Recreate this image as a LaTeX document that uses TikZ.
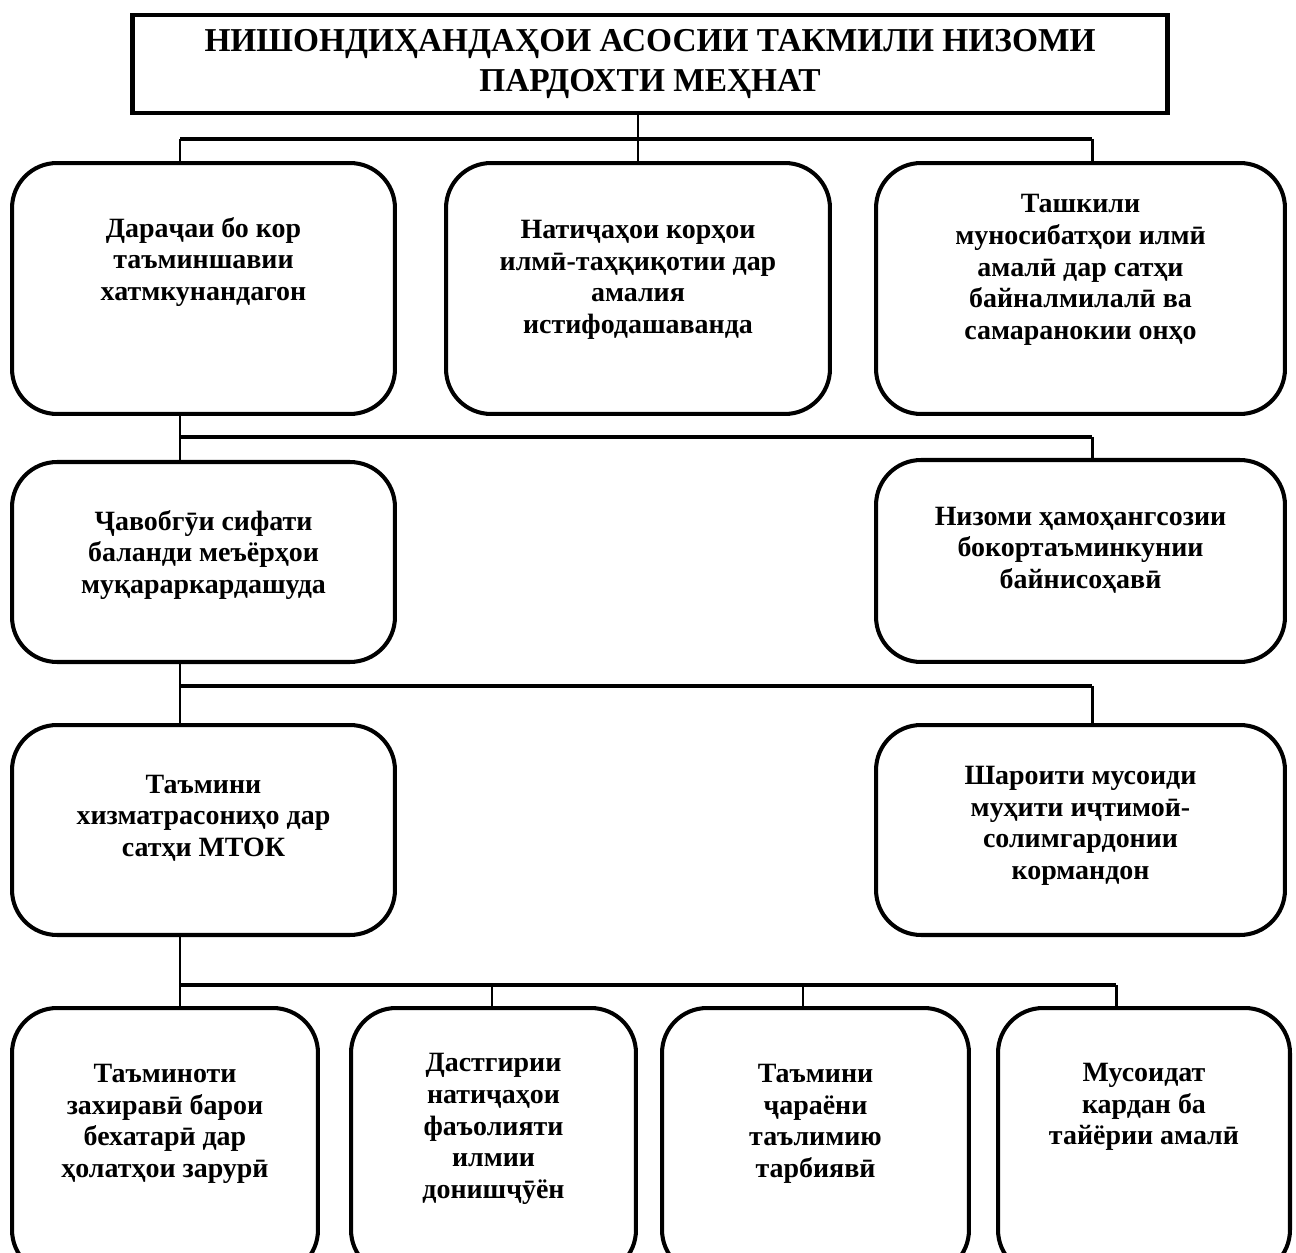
\documentclass[tikz,border=0pt]{standalone}
\usepackage{fontspec}
\setmainfont{Liberation Serif}
\usetikzlibrary{calc, positioning}

\tikzset{
  box/.style={draw, line width=2.3pt, rounded corners=0.9cm, inner sep=0pt},
  txt/.style={align=center, font=\bfseries\fontsize{15.9}{18}\selectfont},
  conn/.style={line width=1.7pt},
  bar/.style={line width=2.4pt},
}

\begin{document}
\begin{tikzpicture}[x=0.02cm, y=-0.02cm]
  \useasboundingbox (0,0) rectangle (1296,1253);
  \clip (0,0) rectangle (1296,1253);

  \node[draw, line width=2.5pt, minimum width=20.7cm, minimum height=1.96cm, align=center,
        font=\bfseries\fontsize{19}{22.8}\selectfont] (title) at (650,64)
        {НИШОНДИҲАНДАҲОИ АСОСИИ ТАКМИЛИ НИЗОМИ\\ПАРДОХТИ МЕҲНАТ};

  \node[box, minimum width=7.66cm, minimum height=5.02cm] (darajai) at (203.5,288.5) {};
  \node[box, minimum width=7.68cm, minimum height=5.02cm] (natija) at (638,288.5) {};
  \node[box, minimum width=8.18cm, minimum height=5.02cm] (tashkil) at (1080.5,288.5) {};
  \node[box, minimum width=7.66cm, minimum height=4cm] (javob) at (203.5,562) {};
  \node[box, minimum width=8.18cm, minimum height=4.04cm] (nizom) at (1080.5,561) {};
  \node[box, minimum width=7.66cm, minimum height=4.2cm] (tamin) at (203.5,830) {};
  \node[box, minimum width=8.18cm, minimum height=4.2cm] (sharoit) at (1080.5,830) {};
  \node[box, minimum width=6.12cm, minimum height=5.34cm] (zakhira) at (165,1141.5) {};
  \node[box, minimum width=5.7cm, minimum height=5.34cm] (dastgir) at (493.5,1141.5) {};
  \node[box, minimum width=6.14cm, minimum height=5.34cm] (jarayon) at (815.5,1141.5) {};
  \node[box, minimum width=5.84cm, minimum height=5.34cm] (musoid) at (1144,1141.5) {};

  \node[txt] (darajai-t) at (203.5,262) {Дараҷаи бо кор\\таъминшавии\\хатмкунандагон};
  \node[txt] (natija-t) at (638,280) {Натиҷаҳои корҳои\\илмӣ-таҳқиқотии дар\\амалия\\истифодашаванда};
  \node[txt] (tashkil-t) at (1080.5,270) {Ташкили\\муносибатҳои илмӣ\\амалӣ дар сатҳи\\байналмилалӣ ва\\самаранокии онҳо};
  \node[txt] (javob-t) at (203.5,555) {Ҷавобгӯи сифати\\баланди меъёрҳои\\муқараркардашуда};
  \node[txt] (nizom-t) at (1080.5,550) {Низоми ҳамоҳангсозии\\бокортаъминкунии\\байнисоҳавӣ};
  \node[txt] (tamin-t) at (203.5,818) {Таъмини\\хизматрасониҳо дар\\сатҳи МТОК};
  \node[txt] (sharoit-t) at (1080.5,826) {Шароити мусоиди\\муҳити иҷтимоӣ-\\солимгардонии\\кормандон};
  \node[txt] (zakhira-t) at (165,1124) {Таъминоти\\захиравӣ барои\\бехатарӣ дар\\ҳолатҳои зарурӣ};
  \node[txt] (dastgir-t) at (493.5,1129) {Дастгирии\\натиҷаҳои\\фаъолияти\\илмии\\донишҷӯён};
  \node[txt] (jarayon-t) at (815.5,1124) {Таъмини\\ҷараёни\\таълимию\\тарбиявӣ};
  \node[txt] (musoid-t) at (1144,1107) {Мусоидат\\кардан ба\\тайёрии амалӣ};

  \coordinate (j1) at (180,139);
  \coordinate (j1r) at (1092,139);
  \coordinate (j2) at (180,437);
  \coordinate (j2r) at (1092,437);
  \coordinate (j3) at (180,686);
  \coordinate (j3r) at (1092,686);
  \coordinate (j4) at (180,985);
  \coordinate (j4b) at (492,985);
  \coordinate (j4c) at (803,985);
  \coordinate (j4r) at (1116,985);

  \draw[conn] (natija.north) -- (natija.north |- title.south);
  \draw[bar] (j1) -- (j1r);
  \draw[conn] (j1) -- (j1 |- darajai.north);
  \draw[conn] (j1r) -- (j1r |- tashkil.north);

  \draw[conn] (j1 |- darajai.south) -- (j1 |- javob.north);
  \draw[bar] (j2) -- (j2r);
  \draw[conn] (j2r) -- (j2r |- nizom.north);

  \draw[conn] (j2 |- javob.south) -- (j2 |- tamin.north);
  \draw[bar] (j3) -- (j3r);
  \draw[conn] (j3r) -- (j3r |- sharoit.north);

  \draw[conn] (j3 |- tamin.south) -- (j3 |- zakhira.north);
  \draw[bar] (j4) -- (j4r);
  \draw[conn] (j4b) -- (j4b |- dastgir.north);
  \draw[conn] (j4c) -- (j4c |- jarayon.north);
  \draw[conn] (j4r) -- (j4r |- musoid.north);
\end{tikzpicture}
\end{document}
